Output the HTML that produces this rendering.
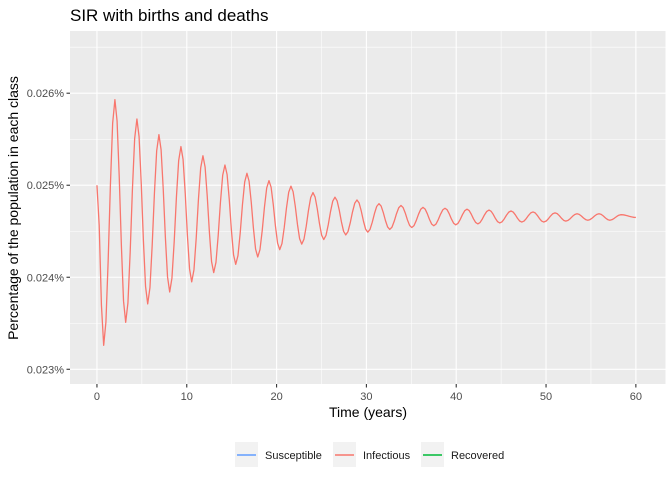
<!DOCTYPE html>
<html><head><meta charset="utf-8"><style>
body{margin:0;background:#fff;width:672px;height:480px;overflow:hidden}
svg{display:block;font-family:"Liberation Sans",Arial,sans-serif}
</style></head><body>
<svg id="chart" width="672" height="480">
<text x="70" y="21" font-size="17" fill="#000">SIR with births and deaths</text>
<rect x="70" y="31" width="595.5" height="353" fill="#EBEBEB"/>
<g id="grid"></g><g id="axes"></g><g id="series"></g>
<text x="368" y="417" font-size="14" text-anchor="middle" fill="#000">Time (years)</text>
<text transform="translate(18,208) rotate(-90)" font-size="14" text-anchor="middle" fill="#000">Percentage of the population in each class</text>
<g>
<g><rect x="235" y="442" width="23" height="25" fill="#F2F2F2"/><line x1="237" x2="256" y1="455" y2="455" stroke="#619CFF" stroke-width="1.5"/><text x="265" y="459" font-size="11" fill="#1a1a1a">Susceptible</text></g>
<g><rect x="333" y="442" width="23" height="25" fill="#F2F2F2"/><line x1="335" x2="354" y1="455" y2="455" stroke="#F8766D" stroke-width="1.5"/><text x="363" y="459" font-size="11" fill="#1a1a1a">Infectious</text></g>
<g><rect x="421" y="442" width="23" height="25" fill="#F2F2F2"/><line x1="423" x2="442" y1="455" y2="455" stroke="#00BA38" stroke-width="1.5"/><text x="451" y="459" font-size="11" fill="#1a1a1a">Recovered</text></g>
</g>
</svg>
<script>
const xTicks = [0, 10, 20, 30, 40, 50, 60];
const yTicks = [0.023, 0.024, 0.025, 0.026];
const yTickLabels = ["0.023%", "0.024%", "0.025%", "0.026%"];
// extrema of the Infectious series (time in years, percent)
const infTimes = [0,0.75,2.0,3.2,4.45,5.65,6.9,8.1,9.35,10.55,11.8,13.0,14.25,15.45,16.7,17.9,19.15,20.35,21.6,22.8,24.05,25.25,26.5,27.7,28.95,30.15,31.4,32.6,33.85,35.05,36.3,37.5,38.75,39.95,41.2,42.4,43.65,44.85,46.1,47.3,48.55,49.75,51.0,52.2,53.45,54.65,55.9,57.1,58.35,60];
const infValues = [0.0250,0.02326,0.02593,0.02351,0.02572,0.02371,0.02555,0.02384,0.02542,0.02395,0.02532,0.02405,0.02522,0.02414,0.02513,0.02422,0.02505,0.0243,0.02499,0.02436,0.02492,0.02441,0.02487,0.02446,0.02484,0.02449,0.0248,0.02452,0.02478,0.02454,0.02476,0.02456,0.02475,0.02457,0.02474,0.02458,0.02473,0.02459,0.02472,0.0246,0.02471,0.0246,0.0247,0.02461,0.02469,0.02462,0.02469,0.02462,0.02468,0.02465];

const NS="http://www.w3.org/2000/svg";
const X0=70,X1=665.5,Y0=31,Y1=384;
const xmin=-3, xmax=63.3;
const ymin=0.02284, ymax=0.026676;
const sx=t=>X0+(t-xmin)/(xmax-xmin)*(X1-X0);
const sy=v=>Y1-(v-ymin)/(ymax-ymin)*(Y1-Y0);
function mk(tag,attrs,parent){const e=document.createElementNS(NS,tag);for(const k in attrs)e.setAttribute(k,attrs[k]);parent.appendChild(e);return e;}
const grid=document.getElementById('grid'), axes=document.getElementById('axes'), series=document.getElementById('series');
// minor grid
for(let i=0;i<xTicks.length-1;i++){const m=(xTicks[i]+xTicks[i+1])/2;const l=mk('line',{x1:sx(m),x2:sx(m),y1:Y0,y2:Y1,stroke:'#fff','stroke-width':0.55},grid);

}
const ystep=yTicks[1]-yTicks[0];
for(let v=yTicks[0]-ystep/2;v<=ymax;v+=ystep){if(v<ymin)continue;const l=mk('line',{x1:X0,x2:X1,y1:sy(v),y2:sy(v),stroke:'#fff','stroke-width':0.55},grid);

}
xTicks.forEach(t=>{const l=mk('line',{x1:sx(t),x2:sx(t),y1:Y0,y2:Y1,stroke:'#fff','stroke-width':1.1},grid);


const tk=mk('line',{x1:sx(t),x2:sx(t),y1:Y1,y2:Y1+3.5,stroke:'#333','stroke-width':1.1},axes);


const tx=mk('text',{x:sx(t),y:Y1+16,'font-size':11,'text-anchor':'middle',fill:'#4D4D4D'},axes);tx.textContent=t;

});
yTicks.forEach((v,i)=>{const l=mk('line',{x1:X0,x2:X1,y1:sy(v),y2:sy(v),stroke:'#fff','stroke-width':1.1},grid);


const tk=mk('line',{x1:X0-3.5,x2:X0,y1:sy(v),y2:sy(v),stroke:'#333','stroke-width':1.1},axes);


const tx=mk('text',{x:X0-6,y:sy(v)+4,'font-size':11,'text-anchor':'end',fill:'#4D4D4D'},axes);tx.textContent=yTickLabels[i];

});
// series: cosine interpolation between extrema, sampled every 0.25 yr
let d='';
for(let i=0;i<infTimes.length-1;i++){const t0=infTimes[i],t1=infTimes[i+1],v0=infValues[i],v1=infValues[i+1];
 const n=Math.max(2,Math.round((t1-t0)/0.25));
 for(let j=(i?1:0);j<=n;j++){const f=j/n;const w=(1-Math.cos(Math.PI*f))/2;const t=t0+(t1-t0)*f,v=v0+(v1-v0)*w;
  d+=(d?'L':'M')+sx(t).toFixed(2)+','+sy(v).toFixed(2);}}
const p=mk('path',{d:d,fill:'none',stroke:'#F8766D','stroke-width':1.3,'stroke-linejoin':'round'},series);


</script>
</body></html>
